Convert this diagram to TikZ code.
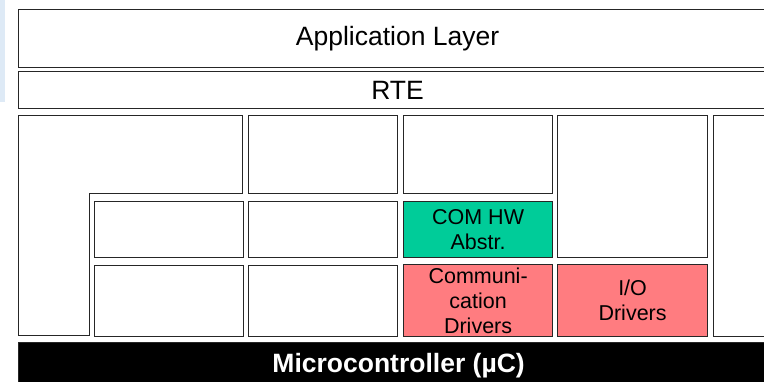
\documentclass[tikz,border=0pt]{standalone}
\usepackage{fontspec}
\setmainfont{Liberation Sans}
\definecolor{comgreen}{RGB}{0,204,153}
\definecolor{drvred}{RGB}{255,124,128}
\definecolor{edgeblue}{RGB}{222,234,246}
\tikzset{
	blk/.style={draw=black!85, line width=1.2pt, anchor=north west, inner sep=0pt, align=center,
		font=\fontsize{21.5}{25}\selectfont},
	layer/.style={blk, font=\fontsize{26.5}{30}\selectfont},
}
\begin{document}
\begin{tikzpicture}[x=1pt,y=-1pt]
		\useasboundingbox (0,0) rectangle (764,382);
		\clip (0,0) rectangle (764,382);
		\fill[edgeblue] (0,0) rectangle (5,102);
		% layers on top
		\node[layer, minimum width=758, minimum height=58] (app) at (18,9) {Application Layer};
		\node[layer, minimum width=758, minimum height=37] (rte) at (18,71) {RTE};
		% basic software
		\draw[draw=black!85, line width=1.2pt] (18.6,115.6) -- (242.4,115.6) -- (242.4,193.4) -- (89.4,193.4)
			-- (89.4,335.4) -- (18.6,335.4) -- cycle;
		\node[blk, minimum width=149, minimum height=56] (ecuabs) at (94,201) {};
		\node[blk, minimum width=149, minimum height=71] (mcudrv) at (94,265) {};
		\node[blk, minimum width=149, minimum height=78] (memsrv) at (248,115) {};
		\node[blk, minimum width=149, minimum height=56] (memabs) at (248,201) {};
		\node[blk, minimum width=149, minimum height=71] (memdrv) at (248,265) {};
		\node[blk, minimum width=149, minimum height=78] (comsrv) at (403,115) {};
		\node[blk, fill=comgreen, minimum width=149, minimum height=56] (comabs) at (403,201) {COM HW\\Abstr.};
		\node[blk, fill=drvred, minimum width=149, minimum height=72] (comdrv) at (403,264) {Communi-\\cation\\Drivers};
		\node[blk, minimum width=150, minimum height=142] (iohw) at (557,115) {};
		\node[blk, fill=drvred, minimum width=150, minimum height=72] (iodrv) at (557,264) {I/O\\Drivers};
		\node[blk, minimum width=70, minimum height=221] (cdd) at (713,115) {};
		% hardware
		\node[layer, fill=black, text=white, font=\bfseries\fontsize{26.5}{30}\selectfont,
			minimum width=760, minimum height=46] (mcu) at (18,342) {Microcontroller (µC)};
	\end{tikzpicture}
\end{document}
